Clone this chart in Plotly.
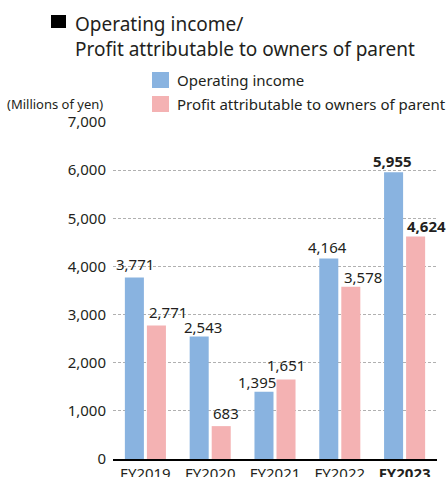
import plotly.graph_objects as go

categories = ["FY2019", "FY2020", "FY2021", "FY2022", "FY2023"]
tick_labels = ["FY2019", "FY2020", "FY2021", "FY2022", "<b>FY2023</b>"]
operating_income = [3771, 2543, 1395, 4164, 5955]
profit_parent = [2771, 683, 1651, 3578, 4624]
y_ticks = [0, 1000, 2000, 3000, 4000, 5000, 6000, 7000]

BLUE = "#89b3e0"
PINK = "#f4b2b3"
FONT = "Noto Sans"
TXT = "#231f20"

W, H = 448, 477
L, R, T, B = 113, 11, 122, 18
PW, PH = W - L - R, H - T - B

# label placement (pixel nudges relative to bar centre / bar top)
blue_dx = [-10.5, -7, -18, -12.5, -12]
blue_dy = [13.7, 9.3, 10, 12, 11.7]
pink_dx = [23, 16, 11, 23, 21.5]
pink_dy = [14, 12.7, 14.7, 10, 10]


def px(x):
    return (x - L) / PW


def py(y):
    return (H - B - y) / PH


def lab(v, last):
    s = f"{v:,}"
    return f"<b>{s}</b>" if last else s


fig = go.Figure()
fig.add_trace(go.Bar(
    x=categories, y=operating_income, name="Operating income",
    marker=dict(color=BLUE, line=dict(width=0)), hoverinfo="x+y",
))
fig.add_trace(go.Bar(
    x=categories, y=profit_parent, name="Profit attributable to owners of parent",
    marker=dict(color=PINK, line=dict(width=0)), hoverinfo="x+y",
))

for series, dxs, dys in ((operating_income, blue_dx, blue_dy), (profit_parent, pink_dx, pink_dy)):
    for i, (c, v) in enumerate(zip(categories, series)):
        fig.add_annotation(
            x=c, y=v, xref="x", yref="y", text=lab(v, i == len(categories) - 1),
            showarrow=False, xanchor="center", yanchor="middle",
            xshift=dxs[i], yshift=dys[i],
            font=dict(family=FONT, size=15, color=TXT),
        )

fig.update_layout(
    width=W, height=H,
    margin=dict(l=L, r=R, t=T, b=B),
    paper_bgcolor="white", plot_bgcolor="white",
    showlegend=False,
    barmode="group", bargap=0.32, bargroupgap=0.136,
    font=dict(family=FONT, size=15, color=TXT),
)
fig.update_xaxes(
    type="category", tickvals=categories, ticktext=tick_labels,
    range=[-0.5, 4.5], showline=True, linecolor="#000", linewidth=1.5,
    ticks="", showgrid=False, automargin=False,
    tickfont=dict(family=FONT, size=15, color=TXT),
)
fig.update_yaxes(
    range=[0, 7000], tickvals=y_ticks, tickformat=",d",
    showgrid=True, gridcolor="#b0b0b0", gridwidth=1, griddash="3px,2px",
    zeroline=False, ticks="", ticklabelstandoff=6, automargin=False,
    tickfont=dict(family=FONT, size=15, color=TXT),
)

shapes = [
    dict(type="rect", xref="paper", yref="paper", x0=px(51), x1=px(66), y0=py(28), y1=py(15),
         fillcolor="#000", line=dict(width=0)),
    dict(type="rect", xref="paper", yref="paper", x0=px(152), x1=px(169), y0=py(88), y1=py(72),
         fillcolor=BLUE, line=dict(width=0)),
    dict(type="rect", xref="paper", yref="paper", x0=px(152), x1=px(169), y0=py(112), y1=py(96),
         fillcolor=PINK, line=dict(width=0)),
]
fig.update_layout(shapes=shapes)

fig.add_annotation(text="Operating income/<br>Profit attributable to owners of parent",
                   x=px(73), y=py(36.5), xref="paper", yref="paper", align="left",
                   xanchor="left", yanchor="middle", showarrow=False,
                   font=dict(family=FONT, size=19, color=TXT))
for text, yy in (("Operating income", 80), ("Profit attributable to owners of parent", 104)):
    fig.add_annotation(text=text, x=px(175), y=py(yy), xref="paper", yref="paper",
                       xanchor="left", yanchor="middle", showarrow=False,
                       font=dict(family=FONT, size=15, color=TXT))
fig.add_annotation(text="(Millions of yen)", x=px(105), y=py(104), xref="paper", yref="paper",
                   xanchor="right", yanchor="middle", showarrow=False,
                   font=dict(family=FONT, size=13, color=TXT))

fig.write_html(
    "out.html",
    config={"displayModeBar": False},
    post_script="document.body.style.margin='0';document.body.style.overflow='hidden';",
)
